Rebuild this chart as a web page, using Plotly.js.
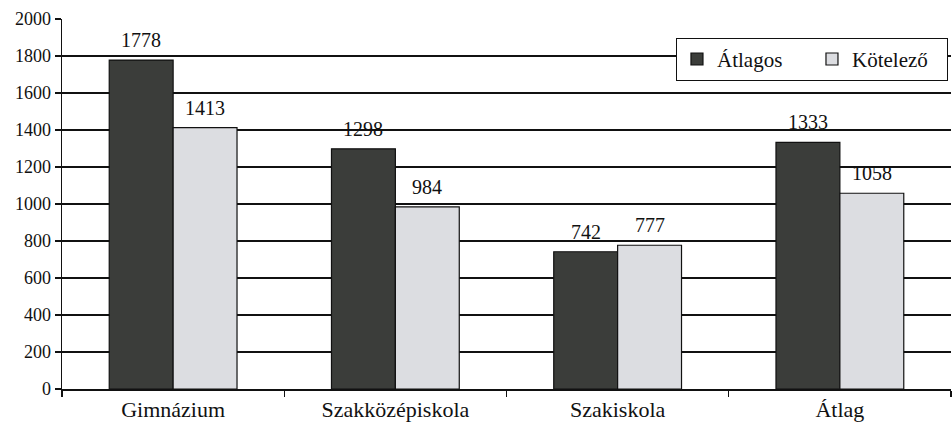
<!DOCTYPE html>
<html>
<head>
<meta charset="utf-8">
<script src="https://cdn.plot.ly/plotly-3.0.1.min.js"></script>
<style>
html,body{margin:0;padding:0;background:#fff;}
#chart{width:952px;height:422px;}
</style>
</head>
<body>
<div id="chart"></div>
<script>
const categories = ["Gimnázium", "Szakközépiskola", "Szakiskola", "Átlag"];
const atlagos = [1778, 1298, 742, 1333];
const kotelezo = [1413, 984, 777, 1058];
const seriesNames = ["Átlagos", "Kötelező"];

const FAM = "Liberation Serif";
const INK = "#111";

const traces = [
  {
    type: "bar", name: seriesNames[0], x: categories, y: atlagos,
    marker: {color: "#3b3d3a", line: {color: INK, width: 1.2}}
  },
  {
    type: "bar", name: seriesNames[1], x: categories, y: kotelezo,
    marker: {color: "#dcdde1", line: {color: INK, width: 1.2}}
  }
];

// value labels above bars, built from the data arrays
const barShift = 32;
const annotations = [];
[atlagos, kotelezo].forEach((vals, s) => {
  vals.forEach((v, i) => {
    annotations.push({
      x: categories[i], y: v, xref: "x", yref: "y",
      text: String(v), showarrow: false,
      xanchor: "center", yanchor: "bottom",
      xshift: s === 0 ? -barShift : barShift, yshift: 7,
      font: {family: FAM, size: 20, color: INK}
    });
  });
});

const layout = {
  width: 952, height: 422,
  margin: {l: 62, r: 1, t: 19, b: 33, pad: 0},
  paper_bgcolor: "#fff", plot_bgcolor: "#fff",
  font: {family: FAM, size: 19, color: INK},
  barmode: "group", bargap: 0.425, bargroupgap: 0,
  showlegend: true,
  annotations: annotations,
  legend: {
    orientation: "h", x: 0.9966, xanchor: "right", y: 0.949, yanchor: "top",
    bgcolor: "#fff", bordercolor: INK, borderwidth: 1,
    font: {family: FAM, size: 21, color: INK},
    traceorder: "normal", entrywidth: 90
  },
  xaxis: {
    type: "category", showline: true, linecolor: INK, linewidth: 1.5,
    ticks: "outside", tickson: "boundaries", ticklen: 6, tickcolor: INK, tickwidth: 1.2,
    showgrid: false, zeroline: false,
    tickfont: {family: FAM, size: 22, color: INK}
  },
  yaxis: {
    range: [0, 2000], dtick: 200, tick0: 0,
    showline: true, linecolor: INK, linewidth: 1.5,
    ticks: "outside", ticklen: 6, tickcolor: INK, tickwidth: 1.2,
    showgrid: true, gridcolor: INK, gridwidth: 1.2,
    zeroline: false,
    tickfont: {family: FAM, size: 18, color: INK}
  }
};

Plotly.newPlot("chart", traces, layout, {displayModeBar: false, staticPlot: true});
</script>
</body>
</html>
